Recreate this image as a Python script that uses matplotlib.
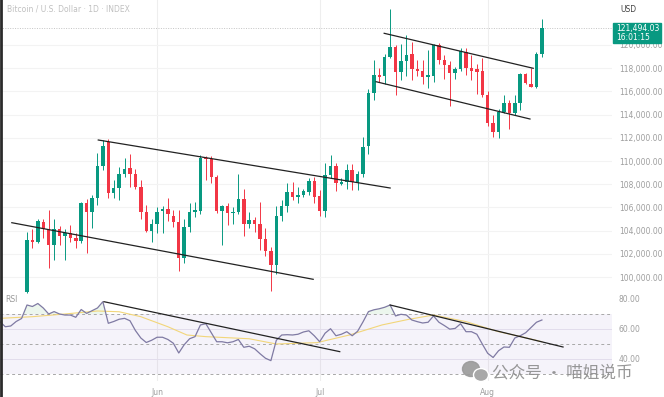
import numpy as np
import pandas as pd
import matplotlib.pyplot as plt
from matplotlib.patches import Rectangle, Ellipse
from matplotlib.lines import Line2D

# Data (prices in thousands USD, one candle per day from 2025-05-08)
start = pd.Timestamp("2025-05-08")

opens = [98.7, 103.2, 103.0, 104.7, 104.1, 102.8, 104.1, 103.5, 103.8, 103.4,
         103.1, 106.4, 105.6, 106.8, 109.6, 111.6, 107.2, 107.7, 108.9, 109.4,
         108.9, 107.8, 105.6, 104.0, 104.6, 105.7, 105.9, 105.3, 104.7, 101.6,
         104.3, 105.6, 105.7, 110.3, 110.2, 108.6, 105.7, 106.1, 105.5, 105.6,
         106.7, 104.6, 104.9, 104.6, 103.3, 102.2, 101.0, 105.3, 106.1, 107.3,
         106.9, 107.1, 107.3, 108.3, 107.0, 105.7, 108.8, 109.6, 108.0, 108.2,
         109.2, 108.2, 108.9, 111.3, 115.9, 117.4, 117.3, 119.0, 119.8, 117.7,
         118.6, 119.2, 117.9, 117.8, 117.2, 117.3, 120.0, 118.7, 118.3, 117.6,
         117.9, 119.4, 118.0, 117.9, 117.8, 115.7, 113.3, 112.5, 114.2, 115.0,
         114.1, 115.0, 117.5, 116.6, 116.4, 119.2]
highs = [103.9, 104.1, 105.0, 105.0, 105.8, 105.0, 104.4, 104.1, 104.5, 103.8,
         106.5, 106.7, 107.1, 110.7, 111.8, 111.9, 108.4, 109.5, 110.3, 110.6,
         109.3, 108.4, 106.2, 105.0, 106.0, 106.1, 106.8, 105.8, 105.8, 105.0,
         106.4, 106.5, 110.5, 110.4, 110.4, 108.8, 106.2, 106.4, 106.0, 108.9,
         107.6, 105.6, 105.2, 106.5, 104.2, 102.6, 106.1, 106.6, 108.1, 108.2,
         107.8, 107.6, 108.5, 108.6, 107.5, 109.8, 110.5, 109.8, 108.5, 109.7,
         109.7, 109.1, 112.1, 116.2, 118.7, 118.0, 119.2, 123.1, 120.0, 120.1,
         120.9, 120.3, 118.7, 118.7, 119.6, 120.1, 120.2, 119.1, 118.6, 118.1,
         119.7, 119.7, 119.1, 118.4, 118.9, 116.0, 114.0, 114.5, 115.7, 115.3,
         115.7, 117.6, 117.6, 118.0, 119.4, 122.2]
lows = [98.6, 102.5, 102.9, 103.4, 100.8, 101.5, 102.8, 101.5, 103.0, 102.5,
        102.9, 102.1, 104.2, 106.2, 109.2, 106.8, 106.8, 106.6, 108.6, 107.8,
        107.6, 105.0, 103.9, 103.0, 103.8, 103.8, 104.8, 104.3, 100.5, 101.2,
        103.9, 105.2, 105.4, 108.4, 108.1, 105.5, 102.8, 104.5, 104.6, 105.4,
        103.5, 104.2, 103.9, 102.3, 101.8, 98.8, 100.3, 104.8, 105.6, 106.6,
        106.4, 106.9, 107.1, 106.4, 105.3, 105.2, 108.5, 107.4, 107.9, 107.6,
        107.5, 107.5, 108.6, 110.6, 115.3, 116.8, 116.6, 118.9, 115.7, 117.0,
        117.3, 117.0, 117.3, 116.6, 116.3, 116.8, 118.4, 117.1, 114.7, 117.1,
        117.8, 117.4, 117.0, 115.8, 115.5, 113.0, 112.1, 112.0, 114.1, 112.8,
        114.0, 114.4, 116.6, 116.4, 116.3, 119.0]
closes = [103.2, 103.0, 104.8, 104.1, 102.8, 104.1, 103.5, 103.8, 103.4, 103.1,
          106.4, 105.6, 106.8, 109.6, 111.3, 107.2, 107.7, 108.9, 109.3, 108.9,
          107.8, 105.6, 104.0, 104.6, 105.6, 105.9, 105.4, 104.7, 101.6, 104.3,
          105.6, 105.8, 110.3, 110.2, 108.6, 105.7, 106.1, 105.5, 105.6, 106.7,
          104.6, 104.9, 104.6, 103.3, 102.2, 101.0, 105.3, 106.1, 107.3, 106.9,
          107.1, 107.4, 108.3, 106.9, 105.7, 108.8, 109.6, 108.1, 108.2, 109.2,
          108.2, 108.9, 111.2, 115.9, 117.4, 117.2, 119.0, 119.8, 117.7, 118.6,
          119.1, 117.9, 117.8, 117.2, 117.4, 120.0, 118.7, 118.3, 117.6, 117.9,
          119.5, 118.0, 117.8, 117.7, 115.7, 113.3, 112.5, 114.2, 115.0, 114.1,
          115.0, 117.5, 116.7, 116.4, 119.2, 121.494]

# RSI, one value per day starting 5 days before the first visible candle
rsi_first_day = -5
rsi_vals = [64.9, 61.5, 62.0, 65.0, 67.0,
            76.0, 75.0, 77.0, 74.0, 70.0, 71.6, 70.0, 69.3, 69.3, 67.8,
            73.0, 70.4, 72.2, 74.0, 78.2, 63.8, 65.0, 66.5, 67.1, 65.5,
            59.0, 54.0, 51.0, 52.5, 54.5, 54.5, 53.0, 50.5, 44.0, 49.5,
            53.5, 54.9, 62.7, 63.5, 57.5, 51.5, 51.5, 50.8, 51.5, 53.0,
            47.8, 48.5, 46.8, 43.5, 40.5, 38.9, 52.5, 56.0, 56.2, 56.0,
            56.5, 58.0, 58.8, 55.5, 51.5, 57.2, 60.2, 55.5, 56.5, 58.2,
            55.5, 58.5, 64.8, 71.6, 72.8, 73.5, 74.5, 76.0, 68.7, 69.8,
            69.3, 66.0, 64.9, 64.0, 64.5, 68.7, 64.5, 62.3, 59.9, 60.4,
            63.5, 58.2, 58.2, 56.5, 50.0, 43.8, 41.0, 45.5, 48.0, 47.8,
            54.0, 55.5, 57.5, 61.0, 64.5, 66.0]

# RSI moving average (read at a few positions)
ma_days = [-5, 1, 7, 13, 17, 21, 26, 29.5, 33, 41, 46, 53.5, 59.5, 65.5, 70.5, 75, 81, 87, 91, 95]
ma_vals = [67.1, 68.2, 70.0, 72.0, 71.5, 68.2, 61.5, 56.0, 54.9, 53.5, 50.0, 50.9,
           56.0, 62.7, 66.5, 69.3, 64.9, 58.2, 55.0, 51.5]

# hand-drawn trendlines: (day, price) pairs and (day, rsi) pairs
price_lines = [[(13.15, 111811), (67.0, 107673)],
               [(-2.8, 104682), (52.8, 99803)],
               [(65.9, 121009), (93.4, 117992)],
               [(64.4, 116836), (92.8, 113621)]]
rsi_lines = [[(14.2, 78.2), (57.7, 44.9)],
             [(67.0, 76.0), (98.9, 48.0)]]

price_ticks = list(range(100000, 120001, 2000))
rsi_ticks = [40, 60, 80]
month_starts = ["2025-06-01", "2025-07-01", "2025-08-01"]
month_labels = ["Jun", "Jul", "Aug"]
last_price = 121494.03
countdown = "16:01:15"

GREEN = "#089981"
RED = "#f23645"
LABEL = "#9e9e9e"
W, H = 664, 397

o = np.array(opens) * 1000
h = np.array(highs) * 1000
l = np.array(lows) * 1000
c = np.array(closes) * 1000
days = np.arange(len(o))
rsi_days = np.arange(len(rsi_vals)) + rsi_first_day
rsi = np.array(rsi_vals)
month_pos = [(pd.Timestamp(m) - start).days for m in month_starts]

fig = plt.figure(figsize=(W / 100, H / 100), dpi=100)
fig.patch.set_facecolor("white")

ax = fig.add_axes([0, 1 - 295 / H, 612 / W, 295 / H])
rax = fig.add_axes([0, 16 / H, 612 / W, 87 / H])

xlim = (-27 / 5.42, 585 / 5.42)
for a in (ax, rax):
    a.set_xlim(*xlim)
    for s in a.spines.values():
        s.set_visible(False)
    a.set_xticks(month_pos)
    a.grid(axis="x", color="#eeeeee", lw=0.8)
    a.set_axisbelow(True)

# Candles
up = c >= o
col = np.where(up, GREEN, RED)
ax.vlines(days, l, h, colors=col, lw=0.7, zorder=2)
body_h = np.maximum(np.abs(c - o), 60)
ax.bar(days, body_h, bottom=np.minimum(o, c), width=0.64, color=col, zorder=3)

for (x0, y0), (x1, y1) in price_lines:
    ax.plot([x0, x1], [y0, y1], color="#222222", lw=0.9, zorder=4)

ax.axhline(last_price, color="#c4c4c4", ls=(0, (1, 1.5)), lw=0.7, zorder=1)

ax.set_ylim(98450, 123879)
ax.yaxis.tick_right()
ax.set_yticks(price_ticks)
ax.set_yticklabels([f"{v:,.2f}" for v in price_ticks])
ax.tick_params(axis="y", length=0, pad=5, labelsize=5.5, labelcolor=LABEL)
ax.tick_params(axis="x", length=0, labelbottom=False)
ax.grid(axis="y", color="#f3f3f3", lw=0.8)

# RSI pane
rax.set_ylim(25.33, 83.33)
rax.axhspan(30, 70, color="#7e57c2", alpha=0.07, lw=0)
for lvl in (70, 50, 30):
    rax.axhline(lvl, color="#a8a8a8", ls=(0, (3, 3)), lw=0.7)
for lvl in (60, 40):
    rax.axhline(lvl, color="#e2ddec", lw=0.7, zorder=1)
rax.fill_between(rsi_days, rsi, 70, where=rsi > 70, interpolate=True,
                 color="#4caf50", alpha=0.10, lw=0)
rax.plot(ma_days, ma_vals, color="#f2d67a", lw=0.8, zorder=3)
rax.plot(rsi_days, rsi, color="#7f7aa3", lw=0.9, zorder=4)
for (x0, y0), (x1, y1) in rsi_lines:
    rax.plot([x0, x1], [y0, y1], color="#222222", lw=0.9, zorder=5)
rax.yaxis.tick_right()
rax.set_yticks(rsi_ticks)
rax.set_yticklabels([f"{v:.2f}" for v in rsi_ticks])
rax.set_xticklabels(month_labels)
rax.tick_params(axis="y", length=0, pad=5, labelsize=5.5, labelcolor=LABEL)
rax.tick_params(axis="x", length=0, pad=5, labelsize=5.5, labelcolor=LABEL)


def fx(px):
    return px / W


def fy(py):
    return 1 - py / H


# texts and decorations
fig.text(fx(7), fy(9), "Bitcoin / U.S. Dollar · 1D · INDEX", fontsize=5.5,
         color="#c0c0c0", va="center")
fig.text(fx(620), fy(10), "USD", fontsize=5.5, color="#444444", va="center")
fig.text(fx(5), fy(300), "RSI", fontsize=5.5, color="#9a9a9a", va="center")

fig.add_artist(Rectangle((fx(612.7), fy(42.7)), (660.7 - 612.7) / W, 20 / H,
                         transform=fig.transFigure, color=GREEN, zorder=10))
fig.text(fx(616), fy(29), f"{last_price:,.2f}", fontsize=5.5, color="white",
         va="center", zorder=11)
fig.text(fx(616), fy(37.5), countdown, fontsize=5.5, color="white",
         va="center", zorder=11)

fig.add_artist(Line2D([fx(1), fx(1)], [0, 1], lw=2, color="#2b2b2b",
                      transform=fig.transFigure))

# watermark
fig.add_artist(Ellipse((fx(471), fy(369)), 17 / W, 15 / H, transform=fig.transFigure,
                       color="#9a9a9a", alpha=0.9, zorder=12))
fig.add_artist(Ellipse((fx(481), fy(375)), 15 / W, 13 / H, transform=fig.transFigure,
                       facecolor="#a8a8a8", edgecolor="white", lw=1, zorder=13))
fig.text(fx(492), fy(373), "公众号 · 喵姐说币", fontsize=12, color="#8c8c8c",
         va="center", ha="left", family=["Noto Sans CJK SC", "DejaVu Sans"],
         alpha=0.9, zorder=14)

fig.savefig("out.png", dpi=100)
